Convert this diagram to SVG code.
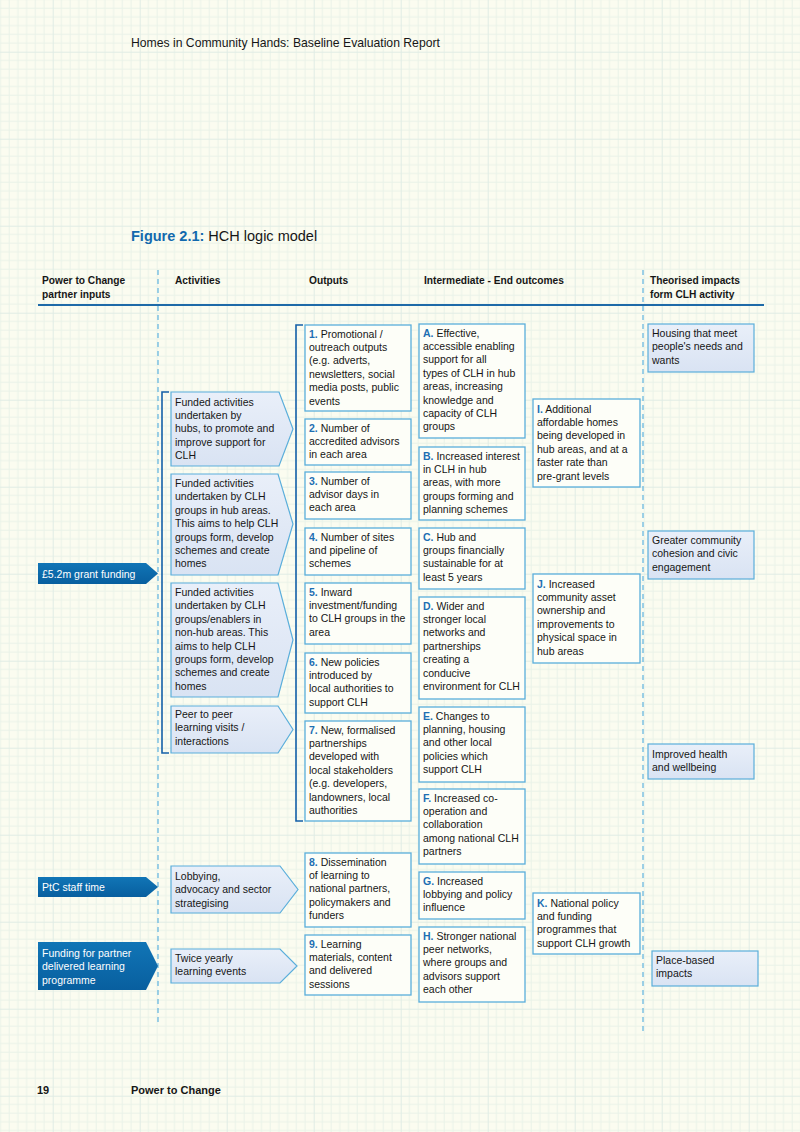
<svg xmlns="http://www.w3.org/2000/svg" width="800" height="1132" viewBox="0 0 800 1132">
<defs>
<pattern id="grid" width="87" height="87" patternUnits="userSpaceOnUse" x="52.7" y="138.7">
<path d="M8.7 0V87M17.4 0V87M26.1 0V87M34.8 0V87M43.5 0V87M52.2 0V87M60.9 0V87M69.6 0V87M78.3 0V87M0 8.7H87M0 17.4H87M0 26.1H87M0 34.8H87M0 43.5H87M0 52.2H87M0 60.9H87M0 69.6H87M0 78.3H87" stroke="#e9f2e8" stroke-width="1" fill="none"/>
<path d="M0 0V87M0 0H87" stroke="#e0ece5" stroke-width="2" fill="none"/>
</pattern>
<linearGradient id="actg" x1="0" y1="0" x2="0" y2="1">
<stop offset="0" stop-color="#e9eff9"/>
<stop offset="1" stop-color="#d9e3f3"/>
</linearGradient>
<linearGradient id="inpg" x1="0" y1="0" x2="0" y2="1">
<stop offset="0" stop-color="#1175b6"/>
<stop offset="1" stop-color="#085f9f"/>
</linearGradient>
<style>
.t{font-family:"Liberation Sans",Arial,sans-serif;font-size:10.5px;fill:#161616}
.n{font-weight:bold;fill:#1d6fb3}
.w{fill:#ffffff}
.h{font-family:"Liberation Sans",Arial,sans-serif;font-size:10.2px;font-weight:bold;fill:#161616}
.box{fill:#fdfef8;stroke:#5aaedb;stroke-width:1.3}
.act{fill:url(#actg);stroke:#5aaedb;stroke-width:1.2}
.inp{fill:url(#inpg)}
.dash{stroke:#5fb3e0;stroke-width:1.2;stroke-dasharray:5 4;fill:none}
.br{stroke:#1560a8;stroke-width:1.6;fill:none}
</style>
</defs>
<rect width="800" height="1132" fill="#fbfcf0"/>
<rect width="800" height="1132" fill="url(#grid)"/>

<g id="page-text">
<text x="131" y="46.5" style="font-family:'Liberation Sans',Arial,sans-serif;font-size:12.2px;fill:#161616">Homes in Community Hands: Baseline Evaluation Report</text>
<text x="131" y="241" style="font-family:'Liberation Sans',Arial,sans-serif;font-size:14.5px;fill:#161616"><tspan style="font-weight:bold;fill:#1269ad">Figure 2.1:</tspan> HCH logic model</text>
<text x="37" y="1094" class="h" style="font-size:11px">19</text>
<text x="131" y="1094" class="h" style="font-size:11px">Power to Change</text>
</g>

<g id="column-headers">
<text class="h" x="42" y="284">Power to Change<tspan x="42" dy="13.6">partner inputs</tspan></text>
<text class="h" x="175" y="284">Activities</text>
<text class="h" x="309" y="284">Outputs</text>
<text class="h" x="424" y="284">Intermediate - End outcomes</text>
<text class="h" x="650" y="284">Theorised impacts<tspan x="650" dy="13.6">form CLH activity</tspan></text>
<line x1="38" y1="305" x2="764" y2="305" stroke="#1e6aa8" stroke-width="2"/>
<line class="dash" x1="158" y1="270" x2="158" y2="1026"/>
<line class="dash" x1="643" y1="270" x2="643" y2="1033"/>
</g>

<g id="connectors">
<path class="br" d="M169 392H162V753H169"/>
<path class="br" d="M303 325H296V821H303"/>
</g>

<g id="input-grant">
<polygon class="inp" points="38,563 146,563 158,573.5 146,584 38,584"/>
<text class="t w" x="42" y="577.5">£5.2m grant funding</text>
</g>
<g id="input-staff">
<polygon class="inp" points="38,877 146,877 158,887 146,897 38,897"/>
<text class="t w" x="42" y="891">PtC staff time</text>
</g>
<g id="input-learning">
<polygon class="inp" points="38,942 146,942 158,966 146,990 38,990"/>
<text class="t w" x="42" y="957">Funding for partner<tspan x="42" dy="13.4">delivered learning</tspan><tspan x="42" dy="13.4">programme</tspan></text>
</g>

<g id="act-hubs">
<polygon class="act" points="171,392 279,392 293,429 279,466 171,466"/>
<text class="t" x="175" y="405.5">Funded activities<tspan x="175" dy="13.4">undertaken by</tspan><tspan x="175" dy="13.4">hubs, to promote and</tspan><tspan x="175" dy="13.4">improve support for</tspan><tspan x="175" dy="13.4">CLH</tspan></text>
</g>
<g id="act-hub-groups">
<polygon class="act" points="171,474 278,474 293,524 278,575 171,575"/>
<text class="t" x="175" y="487">Funded activities<tspan x="175" dy="13.4">undertaken by CLH</tspan><tspan x="175" dy="13.4">groups in hub areas.</tspan><tspan x="175" dy="13.4">This aims to help CLH</tspan><tspan x="175" dy="13.4">groups form, develop</tspan><tspan x="175" dy="13.4">schemes and create</tspan><tspan x="175" dy="13.4">homes</tspan></text>
</g>
<g id="act-nonhub">
<polygon class="act" points="171,583 278,583 293,640 278,697 171,697"/>
<text class="t" x="175" y="596">Funded activities<tspan x="175" dy="13.4">undertaken by CLH</tspan><tspan x="175" dy="13.4">groups/enablers in</tspan><tspan x="175" dy="13.4">non-hub areas. This</tspan><tspan x="175" dy="13.4">aims to help CLH</tspan><tspan x="175" dy="13.4">groups form, develop</tspan><tspan x="175" dy="13.4">schemes and create</tspan><tspan x="175" dy="13.4">homes</tspan></text>
</g>
<g id="act-peer">
<polygon class="act" points="171,706 278,706 293,729.5 278,753 171,753"/>
<text class="t" x="175" y="718">Peer to peer<tspan x="175" dy="13.4">learning visits /</tspan><tspan x="175" dy="13.4">interactions</tspan></text>
</g>
<g id="act-lobbying">
<polygon class="act" points="171,866 280,866 298,889.5 280,913 171,913"/>
<text class="t" x="175" y="880">Lobbying,<tspan x="175" dy="13.4">advocacy and sector</tspan><tspan x="175" dy="13.4">strategising</tspan></text>
</g>
<g id="act-events">
<polygon class="act" points="171,949 280,949 297,966 280,983 171,983"/>
<text class="t" x="175" y="962">Twice yearly<tspan x="175" dy="13.4">learning events</tspan></text>
</g>

<g id="out-1">
<rect class="box" x="305" y="325" width="106" height="86"/>
<text class="t" x="309" y="337.5"><tspan class="n">1.</tspan> Promotional /<tspan x="309" dy="13.4">outreach outputs</tspan><tspan x="309" dy="13.4">(e.g. adverts,</tspan><tspan x="309" dy="13.4">newsletters, social</tspan><tspan x="309" dy="13.4">media posts, public</tspan><tspan x="309" dy="13.4">events</tspan></text>
</g>
<g id="out-2">
<rect class="box" x="305" y="419" width="106" height="46"/>
<text class="t" x="309" y="431.5"><tspan class="n">2.</tspan> Number of<tspan x="309" dy="13.4">accredited advisors</tspan><tspan x="309" dy="13.4">in each area</tspan></text>
</g>
<g id="out-3">
<rect class="box" x="305" y="472" width="106" height="47"/>
<text class="t" x="309" y="484.5"><tspan class="n">3.</tspan> Number of<tspan x="309" dy="13.4">advisor days in</tspan><tspan x="309" dy="13.4">each area</tspan></text>
</g>
<g id="out-4">
<rect class="box" x="305" y="528" width="106" height="47"/>
<text class="t" x="309" y="540.5"><tspan class="n">4.</tspan> Number of sites<tspan x="309" dy="13.4">and pipeline of</tspan><tspan x="309" dy="13.4">schemes</tspan></text>
</g>
<g id="out-5">
<rect class="box" x="305" y="583" width="106" height="61"/>
<text class="t" x="309" y="595.5"><tspan class="n">5.</tspan> Inward<tspan x="309" dy="13.4">investment/funding</tspan><tspan x="309" dy="13.4">to CLH groups in the</tspan><tspan x="309" dy="13.4">area</tspan></text>
</g>
<g id="out-6">
<rect class="box" x="305" y="653" width="106" height="60"/>
<text class="t" x="309" y="665.5"><tspan class="n">6.</tspan> New policies<tspan x="309" dy="13.4">introduced by</tspan><tspan x="309" dy="13.4">local authorities to</tspan><tspan x="309" dy="13.4">support CLH</tspan></text>
</g>
<g id="out-7">
<rect class="box" x="305" y="721" width="106" height="100"/>
<text class="t" x="309" y="733.5"><tspan class="n">7.</tspan> New, formalised<tspan x="309" dy="13.4">partnerships</tspan><tspan x="309" dy="13.4">developed with</tspan><tspan x="309" dy="13.4">local stakeholders</tspan><tspan x="309" dy="13.4">(e.g. developers,</tspan><tspan x="309" dy="13.4">landowners, local</tspan><tspan x="309" dy="13.4">authorities</tspan></text>
</g>
<g id="out-8">
<rect class="box" x="305" y="853" width="106" height="74"/>
<text class="t" x="309" y="865.5"><tspan class="n">8.</tspan> Dissemination<tspan x="309" dy="13.4">of learning to</tspan><tspan x="309" dy="13.4">national partners,</tspan><tspan x="309" dy="13.4">policymakers and</tspan><tspan x="309" dy="13.4">funders</tspan></text>
</g>
<g id="out-9">
<rect class="box" x="305" y="935" width="106" height="60"/>
<text class="t" x="309" y="947.5"><tspan class="n">9.</tspan> Learning<tspan x="309" dy="13.4">materials, content</tspan><tspan x="309" dy="13.4">and delivered</tspan><tspan x="309" dy="13.4">sessions</tspan></text>
</g>

<g id="oc-A">
<rect class="box" x="419" y="324" width="106" height="114"/>
<text class="t" x="423" y="336.5"><tspan class="n">A.</tspan> Effective,<tspan x="423" dy="13.4">accessible enabling</tspan><tspan x="423" dy="13.4">support for all</tspan><tspan x="423" dy="13.4">types of CLH in hub</tspan><tspan x="423" dy="13.4">areas, increasing</tspan><tspan x="423" dy="13.4">knowledge and</tspan><tspan x="423" dy="13.4">capacity of CLH</tspan><tspan x="423" dy="13.4">groups</tspan></text>
</g>
<g id="oc-B">
<rect class="box" x="419" y="447" width="106" height="73"/>
<text class="t" x="423" y="459.5"><tspan class="n">B.</tspan> Increased interest<tspan x="423" dy="13.4">in CLH in hub</tspan><tspan x="423" dy="13.4">areas, with more</tspan><tspan x="423" dy="13.4">groups forming and</tspan><tspan x="423" dy="13.4">planning schemes</tspan></text>
</g>
<g id="oc-C">
<rect class="box" x="419" y="528" width="106" height="61"/>
<text class="t" x="423" y="540.5"><tspan class="n">C.</tspan> Hub and<tspan x="423" dy="13.4">groups financially</tspan><tspan x="423" dy="13.4">sustainable for at</tspan><tspan x="423" dy="13.4">least 5 years</tspan></text>
</g>
<g id="oc-D">
<rect class="box" x="419" y="597" width="106" height="102"/>
<text class="t" x="423" y="609.5"><tspan class="n">D.</tspan> Wider and<tspan x="423" dy="13.4">stronger local</tspan><tspan x="423" dy="13.4">networks and</tspan><tspan x="423" dy="13.4">partnerships</tspan><tspan x="423" dy="13.4">creating a</tspan><tspan x="423" dy="13.4">conducive</tspan><tspan x="423" dy="13.4">environment for CLH</tspan></text>
</g>
<g id="oc-E">
<rect class="box" x="419" y="707" width="106" height="75"/>
<text class="t" x="423" y="719.5"><tspan class="n">E.</tspan> Changes to<tspan x="423" dy="13.4">planning, housing</tspan><tspan x="423" dy="13.4">and other local</tspan><tspan x="423" dy="13.4">policies which</tspan><tspan x="423" dy="13.4">support CLH</tspan></text>
</g>
<g id="oc-F">
<rect class="box" x="419" y="789" width="106" height="75"/>
<text class="t" x="423" y="801.5"><tspan class="n">F.</tspan> Increased co-<tspan x="423" dy="13.4">operation and</tspan><tspan x="423" dy="13.4">collaboration</tspan><tspan x="423" dy="13.4">among national CLH</tspan><tspan x="423" dy="13.4">partners</tspan></text>
</g>
<g id="oc-G">
<rect class="box" x="419" y="872" width="106" height="47"/>
<text class="t" x="423" y="884.5"><tspan class="n">G.</tspan> Increased<tspan x="423" dy="13.4">lobbying and policy</tspan><tspan x="423" dy="13.4">influence</tspan></text>
</g>
<g id="oc-H">
<rect class="box" x="419" y="927" width="106" height="75"/>
<text class="t" x="423" y="939.5"><tspan class="n">H.</tspan> Stronger national<tspan x="423" dy="13.4">peer networks,</tspan><tspan x="423" dy="13.4">where groups and</tspan><tspan x="423" dy="13.4">advisors support</tspan><tspan x="423" dy="13.4">each other</tspan></text>
</g>

<g id="oc-I">
<rect class="box" x="533" y="399" width="107" height="88"/>
<text class="t" x="537" y="412.5"><tspan class="n">I.</tspan> Additional<tspan x="537" dy="13.4">affordable homes</tspan><tspan x="537" dy="13.4">being developed in</tspan><tspan x="537" dy="13.4">hub areas, and at a</tspan><tspan x="537" dy="13.4">faster rate than</tspan><tspan x="537" dy="13.4">pre-grant levels</tspan></text>
</g>
<g id="oc-J">
<rect class="box" x="533" y="574" width="107" height="89"/>
<text class="t" x="537" y="587.5"><tspan class="n">J.</tspan> Increased<tspan x="537" dy="13.4">community asset</tspan><tspan x="537" dy="13.4">ownership and</tspan><tspan x="537" dy="13.4">improvements to</tspan><tspan x="537" dy="13.4">physical space in</tspan><tspan x="537" dy="13.4">hub areas</tspan></text>
</g>
<g id="oc-K">
<rect class="box" x="533" y="893" width="107" height="61"/>
<text class="t" x="537" y="906.5"><tspan class="n">K.</tspan> National policy<tspan x="537" dy="13.4">and funding</tspan><tspan x="537" dy="13.4">programmes that</tspan><tspan x="537" dy="13.4">support CLH growth</tspan></text>
</g>

<g id="imp-housing">
<rect class="act" x="648" y="324" width="106" height="48"/>
<text class="t" x="652" y="337">Housing that meet<tspan x="652" dy="13.4">people's needs and</tspan><tspan x="652" dy="13.4">wants</tspan></text>
</g>
<g id="imp-cohesion">
<rect class="act" x="648" y="531" width="106" height="48"/>
<text class="t" x="652" y="544">Greater community<tspan x="652" dy="13.4">cohesion and civic</tspan><tspan x="652" dy="13.4">engagement</tspan></text>
</g>
<g id="imp-health">
<rect class="act" x="648" y="744" width="106" height="35"/>
<text class="t" x="652" y="757.5">Improved health<tspan x="652" dy="13.4">and wellbeing</tspan></text>
</g>
<g id="imp-place">
<rect class="act" x="652" y="951" width="106" height="35"/>
<text class="t" x="656" y="964">Place-based<tspan x="656" dy="13.4">impacts</tspan></text>
</g>
</svg>
